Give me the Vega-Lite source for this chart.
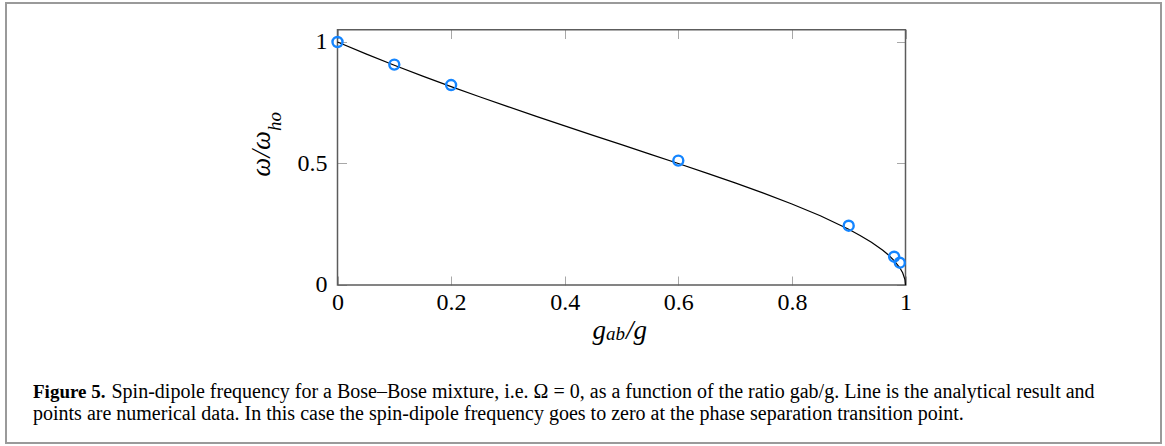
{
  "$schema": "https://vega.github.io/schema/vega-lite/v6.json",
  "width": 1155,
  "height": 440,
  "autosize": {"type": "none"},
  "padding": {"left": 6, "top": 3, "right": 4, "bottom": 3},
  "background": "white",
  "config": {
    "view": {"stroke": "#9a9a9a", "strokeWidth": 2},
    "font": "Liberation Serif",
    "axis": {"labelFont": "Liberation Serif", "labelColor": "black", "domain": false, "grid": false, "tickColor": "#a8a8a8", "tickWidth": 1, "labelFlush": false, "labelOverlap": false, "title": null}
  },
  "resolve": {"axis": {"x": "independent", "y": "independent"}},
  "layer": [
    {
      "data": {"values": [{"x0": 0, "x1": 1, "y0": 0, "y1": 1.05}]},
      "mark": {"type": "rect", "fill": null, "stroke": "#5c5c5c", "strokeWidth": 1.5},
      "encoding": {
        "x": {"field": "x0", "type": "quantitative", "scale": {"domain": [-0.58363, 1.44982], "nice": false, "zero": false},
          "axis": {"orient": "bottom", "offset": -158, "values": [0, 0.2, 0.4, 0.6, 0.8, 1], "format": "~g", "tickSize": -9, "labelFontSize": 24, "labelPadding": 14}},
        "x2": {"field": "x1"},
        "y": {"field": "y0", "type": "quantitative", "scale": {"domain": [-0.65021, 1.16049], "nice": false, "zero": false},
          "axis": {"orient": "left", "offset": -331.5, "values": [0, 0.5, 1], "format": "~g", "tickSize": -9, "labelFontSize": 24, "labelPadding": 19.5}},
        "y2": {"field": "y1"}
      }
    },
    {
      "data": {"name": "curve", "values": [
        {"r": 0, "w": 1}, {"r": 0.05, "w": 0.9512}, {"r": 0.1, "w": 0.9045}, {"r": 0.15, "w": 0.8597},
        {"r": 0.2, "w": 0.8165}, {"r": 0.25, "w": 0.7746}, {"r": 0.3, "w": 0.7338}, {"r": 0.35, "w": 0.6939},
        {"r": 0.4, "w": 0.6547}, {"r": 0.45, "w": 0.6159}, {"r": 0.5, "w": 0.5774}, {"r": 0.55, "w": 0.5388},
        {"r": 0.6, "w": 0.5}, {"r": 0.65, "w": 0.4606}, {"r": 0.7, "w": 0.4201}, {"r": 0.75, "w": 0.378},
        {"r": 0.8, "w": 0.3333}, {"r": 0.85, "w": 0.2847}, {"r": 0.9, "w": 0.2294}, {"r": 0.92, "w": 0.2041},
        {"r": 0.94, "w": 0.1759}, {"r": 0.96, "w": 0.1429}, {"r": 0.97, "w": 0.1234}, {"r": 0.98, "w": 0.1005},
        {"r": 0.99, "w": 0.0709}, {"r": 0.995, "w": 0.0501}, {"r": 0.999, "w": 0.0224}, {"r": 1, "w": 0}
      ]},
      "mark": {"type": "line", "color": "black", "strokeWidth": 1.2},
      "encoding": {
        "x": {"field": "r", "type": "quantitative", "scale": {"domain": [-0.58363, 1.44982], "nice": false, "zero": false},
          "axis": {"orient": "top", "offset": -26.5, "values": [0, 0.2, 0.4, 0.6, 0.8, 1], "tickSize": -9, "labels": false}},
        "y": {"field": "w", "type": "quantitative", "scale": {"domain": [-0.65021, 1.16049], "nice": false, "zero": false},
          "axis": {"orient": "right", "offset": -255.5, "values": [0, 0.5, 1], "tickSize": -9, "labels": false}}
      }
    },
    {
      "data": {"values": [
        {"r": 0, "w": 1.0}, {"r": 0.1, "w": 0.907}, {"r": 0.2, "w": 0.823}, {"r": 0.6, "w": 0.512},
        {"r": 0.9, "w": 0.244}, {"r": 0.98, "w": 0.1165}, {"r": 0.99, "w": 0.0918}
      ]},
      "mark": {"type": "point", "shape": "circle", "filled": false, "stroke": "#1485ff", "strokeWidth": 2.4, "size": 100, "opacity": 1},
      "encoding": {
        "x": {"field": "r", "type": "quantitative", "axis": null},
        "y": {"field": "w", "type": "quantitative", "axis": null}
      }
    },
    {
      "data": {"values": [{"t": "ω/ω"}]},
      "mark": {"type": "text", "font": "Liberation Serif", "fontStyle": "italic", "fontSize": 27, "angle": 270, "align": "right", "baseline": "alphabetic", "color": "black"},
      "encoding": {
        "x": {"datum": -0.11884, "type": "quantitative", "axis": null},
        "y": {"datum": 0.63374, "type": "quantitative", "axis": null},
        "text": {"field": "t"}
      }
    },
    {
      "data": {"values": [{"t": "ho"}]},
      "mark": {"type": "text", "font": "Liberation Serif", "fontStyle": "italic", "fontSize": 19, "angle": 270, "align": "left", "baseline": "alphabetic", "color": "black"},
      "encoding": {
        "x": {"datum": -0.09947, "type": "quantitative", "axis": null},
        "y": {"datum": 0.63374, "type": "quantitative", "axis": null},
        "text": {"field": "t"}
      }
    },
    {
      "data": {"values": [{"t": "g"}]},
      "mark": {"type": "text", "font": "Liberation Serif", "fontStyle": "italic", "fontSize": 27, "align": "right", "baseline": "alphabetic", "color": "black"},
      "encoding": {
        "x": {"datum": 0.47271, "type": "quantitative", "axis": null},
        "y": {"datum": -0.22222, "type": "quantitative", "axis": null},
        "text": {"field": "t"}
      }
    },
    {
      "data": {"values": [{"t": "ab"}]},
      "mark": {"type": "text", "font": "Liberation Serif", "fontStyle": "italic", "fontSize": 19, "align": "left", "baseline": "alphabetic", "color": "black"},
      "encoding": {
        "x": {"datum": 0.47271, "type": "quantitative", "axis": null},
        "y": {"datum": -0.22634, "type": "quantitative", "axis": null},
        "text": {"field": "t"}
      }
    },
    {
      "data": {"values": [{"t": "/g"}]},
      "mark": {"type": "text", "font": "Liberation Serif", "fontStyle": "italic", "fontSize": 27, "align": "left", "baseline": "alphabetic", "color": "black"},
      "encoding": {
        "x": {"datum": 0.50792, "type": "quantitative", "axis": null},
        "y": {"datum": -0.22222, "type": "quantitative", "axis": null},
        "text": {"field": "t"}
      }
    },
    {
      "data": {"values": [{"t": "Figure 5."}]},
      "mark": {"type": "text", "font": "Liberation Serif", "fontWeight": "bold", "fontSize": 19, "align": "left", "baseline": "alphabetic", "color": "black"},
      "encoding": {
        "x": {"datum": -0.53609, "type": "quantitative", "axis": null},
        "y": {"datum": -0.46502, "type": "quantitative", "axis": null},
        "text": {"field": "t"}
      }
    },
    {
      "data": {"values": [{"t": "Spin-dipole frequency for a Bose–Bose mixture, i.e. Ω = 0, as a function of the ratio gab/g. Line is the analytical result and"}]},
      "mark": {"type": "text", "font": "Liberation Serif", "fontSize": 20, "align": "left", "baseline": "alphabetic", "color": "black"},
      "encoding": {
        "x": {"datum": -0.39789, "type": "quantitative", "axis": null},
        "y": {"datum": -0.46502, "type": "quantitative", "axis": null},
        "text": {"field": "t"}
      }
    },
    {
      "data": {"values": [{"t": "points are numerical data. In this case the spin-dipole frequency goes to zero at the phase separation transition point."}]},
      "mark": {"type": "text", "font": "Liberation Serif", "fontSize": 20, "align": "left", "baseline": "alphabetic", "color": "black"},
      "encoding": {
        "x": {"datum": -0.53609, "type": "quantitative", "axis": null},
        "y": {"datum": -0.55556, "type": "quantitative", "axis": null},
        "text": {"field": "t"}
      }
    }
  ]
}
